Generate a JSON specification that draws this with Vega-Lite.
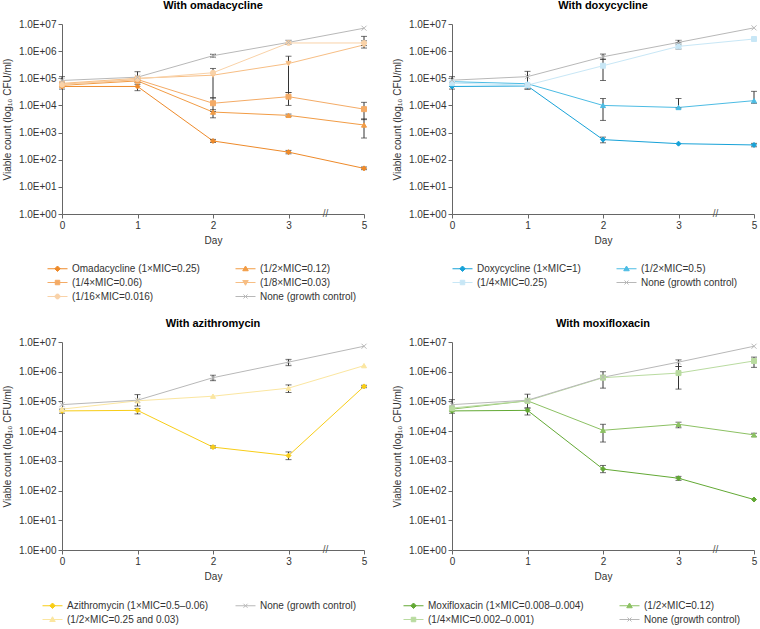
{
  "$schema": "https://vega.github.io/schema/vega-lite/v6.json",
  "padding": {"left": 2, "top": 0, "right": 0, "bottom": 0},
  "background": "white",
  "config": {
    "font": "Liberation Sans",
    "view": {"stroke": null},
    "title": {"fontSize": 11, "fontWeight": "bold", "color": "#000", "offset": 8, "anchor": "middle"},
    "axis": {"grid": false, "domainColor": "#666", "tickColor": "#666", "labelColor": "#333", "titleColor": "#333", "labelFontSize": 10, "titleFontSize": 10, "titleFontWeight": "normal", "tickSize": 4, "labelPadding": 2},
    "legend": {"labelFontSize": 10, "labelColor": "#333", "symbolSize": 100, "labelOffset": 9, "columnPadding": 33, "rowPadding": 3, "columns": 2, "direction": "horizontal", "orient": "none"}
  },
  "resolve": {"scale": {"color": "independent", "shape": "independent", "fill": "independent", "stroke": "independent"}, "legend": {"color": "independent", "shape": "independent", "fill": "independent", "stroke": "independent"}},
  "datasets": {
    "oma": [
      {"series": "Omadacycline (1×MIC=0.25)", "day": 0, "v": 50000, "lo": 40000, "hi": 60000},
      {"series": "Omadacycline (1×MIC=0.25)", "day": 1, "v": 50000, "lo": 35000, "hi": 60000},
      {"series": "Omadacycline (1×MIC=0.25)", "day": 2, "v": 490, "lo": 430, "hi": 560},
      {"series": "Omadacycline (1×MIC=0.25)", "day": 3, "v": 190, "lo": 165, "hi": 220},
      {"series": "Omadacycline (1×MIC=0.25)", "day": 5, "v": 48, "lo": 43, "hi": 54},
      {"series": "(1/2×MIC=0.12)", "day": 0, "v": 55000},
      {"series": "(1/2×MIC=0.12)", "day": 1, "v": 80000},
      {"series": "(1/2×MIC=0.12)", "day": 2, "v": 5700, "lo": 3500, "hi": 7000},
      {"series": "(1/2×MIC=0.12)", "day": 3, "v": 4300, "lo": 3900, "hi": 4800},
      {"series": "(1/2×MIC=0.12)", "day": 5, "v": 1900, "lo": 630, "hi": 3200},
      {"series": "(1/4×MIC=0.06)", "day": 0, "v": 60000},
      {"series": "(1/4×MIC=0.06)", "day": 1, "v": 90000},
      {"series": "(1/4×MIC=0.06)", "day": 2, "v": 12000, "lo": 6000, "hi": 19000},
      {"series": "(1/4×MIC=0.06)", "day": 3, "v": 21000, "lo": 10000, "hi": 30000},
      {"series": "(1/4×MIC=0.06)", "day": 5, "v": 7300, "lo": 3000, "hi": 13000},
      {"series": "(1/8×MIC=0.03)", "day": 0, "v": 65000},
      {"series": "(1/8×MIC=0.03)", "day": 1, "v": 100000},
      {"series": "(1/8×MIC=0.03)", "day": 2, "v": 130000, "lo": 19000, "hi": 230000},
      {"series": "(1/8×MIC=0.03)", "day": 3, "v": 350000, "lo": 30000, "hi": 650000},
      {"series": "(1/8×MIC=0.03)", "day": 5, "v": 1700000, "lo": 1300000, "hi": 3500000},
      {"series": "(1/16×MIC=0.016)", "day": 0, "v": 58000},
      {"series": "(1/16×MIC=0.016)", "day": 1, "v": 95000},
      {"series": "(1/16×MIC=0.016)", "day": 2, "v": 160000},
      {"series": "(1/16×MIC=0.016)", "day": 3, "v": 2000000},
      {"series": "(1/16×MIC=0.016)", "day": 5, "v": 2000000, "lo": 1600000, "hi": 2400000},
      {"series": "None (growth control)", "day": 0, "v": 83000, "lo": 60000, "hi": 115000},
      {"series": "None (growth control)", "day": 1, "v": 110000, "lo": 70000, "hi": 175000},
      {"series": "None (growth control)", "day": 2, "v": 680000, "lo": 600000, "hi": 760000},
      {"series": "None (growth control)", "day": 3, "v": 2100000, "lo": 1800000, "hi": 2500000},
      {"series": "None (growth control)", "day": 5, "v": 7000000}
    ],
    "doxy": [
      {"series": "Doxycycline (1×MIC=1)", "day": 0, "v": 50000, "lo": 40000, "hi": 60000},
      {"series": "Doxycycline (1×MIC=1)", "day": 1, "v": 52000, "lo": 40000, "hi": 60000},
      {"series": "Doxycycline (1×MIC=1)", "day": 2, "v": 550, "lo": 420, "hi": 680},
      {"series": "Doxycycline (1×MIC=1)", "day": 3, "v": 390},
      {"series": "Doxycycline (1×MIC=1)", "day": 5, "v": 350, "lo": 300, "hi": 400},
      {"series": "(1/2×MIC=0.5)", "day": 0, "v": 75000},
      {"series": "(1/2×MIC=0.5)", "day": 1, "v": 63000},
      {"series": "(1/2×MIC=0.5)", "day": 2, "v": 10000, "lo": 2800, "hi": 18000},
      {"series": "(1/2×MIC=0.5)", "day": 3, "v": 8400, "lo": 8000, "hi": 18000},
      {"series": "(1/2×MIC=0.5)", "day": 5, "v": 15000, "lo": 12000, "hi": 33000},
      {"series": "(1/4×MIC=0.25)", "day": 0, "v": 66000},
      {"series": "(1/4×MIC=0.25)", "day": 1, "v": 56000},
      {"series": "(1/4×MIC=0.25)", "day": 2, "v": 290000, "lo": 83000, "hi": 500000},
      {"series": "(1/4×MIC=0.25)", "day": 3, "v": 1500000, "lo": 1200000, "hi": 2000000},
      {"series": "(1/4×MIC=0.25)", "day": 5, "v": 2800000, "lo": 2500000, "hi": 3000000},
      {"series": "None (growth control)", "day": 0, "v": 85000, "lo": 50000, "hi": 115000},
      {"series": "None (growth control)", "day": 1, "v": 115000, "lo": 40000, "hi": 180000},
      {"series": "None (growth control)", "day": 2, "v": 620000, "lo": 500000, "hi": 780000},
      {"series": "None (growth control)", "day": 3, "v": 2100000, "lo": 1700000, "hi": 2500000},
      {"series": "None (growth control)", "day": 5, "v": 7200000}
    ],
    "azi": [
      {"series": "Azithromycin (1×MIC=0.5–0.06)", "day": 0, "v": 48000, "lo": 40000, "hi": 55000},
      {"series": "Azithromycin (1×MIC=0.5–0.06)", "day": 1, "v": 50000, "lo": 38000, "hi": 58000},
      {"series": "Azithromycin (1×MIC=0.5–0.06)", "day": 2, "v": 2900, "lo": 2700, "hi": 3200},
      {"series": "Azithromycin (1×MIC=0.5–0.06)", "day": 3, "v": 1500, "lo": 1100, "hi": 2000},
      {"series": "Azithromycin (1×MIC=0.5–0.06)", "day": 5, "v": 320000, "lo": 290000, "hi": 350000},
      {"series": "(1/2×MIC=0.25 and 0.03)", "day": 0, "v": 55000},
      {"series": "(1/2×MIC=0.25 and 0.03)", "day": 1, "v": 105000},
      {"series": "(1/2×MIC=0.25 and 0.03)", "day": 2, "v": 150000},
      {"series": "(1/2×MIC=0.25 and 0.03)", "day": 3, "v": 280000, "lo": 200000, "hi": 360000},
      {"series": "(1/2×MIC=0.25 and 0.03)", "day": 5, "v": 1600000},
      {"series": "None (growth control)", "day": 0, "v": 78000},
      {"series": "None (growth control)", "day": 1, "v": 110000, "lo": 70000, "hi": 170000},
      {"series": "None (growth control)", "day": 2, "v": 630000, "lo": 500000, "hi": 760000},
      {"series": "None (growth control)", "day": 3, "v": 2100000, "lo": 1600000, "hi": 2600000},
      {"series": "None (growth control)", "day": 5, "v": 7200000}
    ],
    "moxi": [
      {"series": "Moxifloxacin (1×MIC=0.008–0.004)", "day": 0, "v": 48000, "lo": 40000, "hi": 56000},
      {"series": "Moxifloxacin (1×MIC=0.008–0.004)", "day": 1, "v": 50000, "lo": 35000, "hi": 60000},
      {"series": "Moxifloxacin (1×MIC=0.008–0.004)", "day": 2, "v": 530, "lo": 400, "hi": 700},
      {"series": "Moxifloxacin (1×MIC=0.008–0.004)", "day": 3, "v": 260, "lo": 220, "hi": 300},
      {"series": "Moxifloxacin (1×MIC=0.008–0.004)", "day": 5, "v": 50},
      {"series": "(1/2×MIC=0.12)", "day": 0, "v": 55000},
      {"series": "(1/2×MIC=0.12)", "day": 1, "v": 105000},
      {"series": "(1/2×MIC=0.12)", "day": 2, "v": 10700, "lo": 4300, "hi": 17000},
      {"series": "(1/2×MIC=0.12)", "day": 3, "v": 17000, "lo": 13000, "hi": 20000},
      {"series": "(1/2×MIC=0.12)", "day": 5, "v": 7500, "lo": 6500, "hi": 8500},
      {"series": "(1/4×MIC=0.002–0.001)", "day": 0, "v": 60000},
      {"series": "(1/4×MIC=0.002–0.001)", "day": 1, "v": 105000},
      {"series": "(1/4×MIC=0.002–0.001)", "day": 2, "v": 630000, "lo": 280000, "hi": 1000000},
      {"series": "(1/4×MIC=0.002–0.001)", "day": 3, "v": 900000, "lo": 260000, "hi": 1500000},
      {"series": "(1/4×MIC=0.002–0.001)", "day": 5, "v": 2300000, "lo": 1400000, "hi": 3100000},
      {"series": "None (growth control)", "day": 0, "v": 78000, "lo": 50000, "hi": 115000},
      {"series": "None (growth control)", "day": 1, "v": 110000, "lo": 60000, "hi": 175000},
      {"series": "None (growth control)", "day": 2, "v": 650000, "lo": 550000, "hi": 750000},
      {"series": "None (growth control)", "day": 3, "v": 2100000, "lo": 1500000, "hi": 2500000},
      {"series": "None (growth control)", "day": 5, "v": 7200000}
    ]
  },
  "vconcat": [
    {
      "resolve": {"scale": {"color": "independent", "shape": "independent", "fill": "independent", "stroke": "independent"}, "legend": {"color": "independent", "shape": "independent", "fill": "independent", "stroke": "independent"}},
      "hconcat": [
        {
          "width": 302, "height": 190,
          "title": "With omadacycline",
          "data": {"name": "oma"},
          "encoding": {"x": {"field": "day", "type": "ordinal", "title": "Day", "scale": {"type": "point", "padding": 0, "domain": [0, 1, 2, 3, 5]}, "axis": {"labelAngle": 0, "titlePadding": 5}}},
          "layer": [
            {"mark": {"type": "line", "strokeWidth": 1},
             "encoding": {
               "y": {"field": "v", "type": "quantitative", "title": "Viable count (log₁₀ CFU/ml)", "scale": {"type": "log", "domain": [1, 10000000]}, "axis": {"values": [1, 10, 100, 1000, 10000, 100000, 1000000, 10000000], "labelExpr": "'1.0E+0' + format(log(datum.value)/LN10, '.0f')", "titlePadding": 6}},
               "color": {"field": "series", "type": "nominal",
                 "scale": {"domain": ["Omadacycline (1×MIC=0.25)", "(1/2×MIC=0.12)", "(1/4×MIC=0.06)", "(1/8×MIC=0.03)", "(1/16×MIC=0.016)", "None (growth control)"], "range": ["#ee8a2a", "#f29c45", "#f4ab66", "#f7be84", "#f9d2a8", "#b8b8b8"]},
                 "legend": {"title": null, "legendX": -10, "legendY": 239,
                   "encode": {"symbols": {"update": {
                     "shape": {"signal": "['M-2,0L2,0M0,-0.55L0.55,0L0,0.55L-0.55,0Z','M-2,0L2,0M0,-0.55L0.55,0.4L-0.55,0.4Z','M-2,0L2,0M-0.45,-0.45L0.45,-0.45L0.45,0.45L-0.45,0.45Z','M-2,0L2,0M0,0.55L0.55,-0.4L-0.55,-0.4Z','M-2,0L2,0M-0.48,0A0.48,0.48,0,1,0,0.48,0A0.48,0.48,0,1,0,-0.48,0Z','M-2,0L2,0M-0.4,-0.4L0.4,0.4M-0.4,0.4L0.4,-0.4'][indexof(['Omadacycline (1×MIC=0.25)','(1/2×MIC=0.12)','(1/4×MIC=0.06)','(1/8×MIC=0.03)','(1/16×MIC=0.016)','None (growth control)'], datum.value)]"},
                     "fill": {"signal": "['#ee8a2a','#f29c45','#f4ab66','#f7be84','#f9d2a8','#b8b8b8'][indexof(['Omadacycline (1×MIC=0.25)','(1/2×MIC=0.12)','(1/4×MIC=0.06)','(1/8×MIC=0.03)','(1/16×MIC=0.016)','None (growth control)'], datum.value)]"},
                     "stroke": {"signal": "['#ee8a2a','#f29c45','#f4ab66','#f7be84','#f9d2a8','#b8b8b8'][indexof(['Omadacycline (1×MIC=0.25)','(1/2×MIC=0.12)','(1/4×MIC=0.06)','(1/8×MIC=0.03)','(1/16×MIC=0.016)','None (growth control)'], datum.value)]"},
                     "strokeWidth": {"value": 1}
                   }}}}}
             }},
            {"transform": [{"filter": "isValid(datum.lo)"}],
             "mark": {"type": "errorbar", "color": "#333", "thickness": 1, "ticks": {"size": 6}},
             "encoding": {"y": {"field": "lo", "type": "quantitative", "title": "Viable count (log₁₀ CFU/ml)"}, "y2": {"field": "hi"}}},
            {"mark": {"type": "point", "filled": true, "size": 25, "strokeWidth": 1, "opacity": 1},
             "encoding": {
               "y": {"field": "v", "type": "quantitative", "title": "Viable count (log₁₀ CFU/ml)"},
               "shape": {"field": "series", "type": "nominal", "legend": null, "scale": {"domain": ["None (growth control)", "(1/16×MIC=0.016)", "(1/8×MIC=0.03)", "(1/4×MIC=0.06)", "(1/2×MIC=0.12)", "Omadacycline (1×MIC=0.25)"], "range": ["M-1,-1L1,1M-1,1L1,-1", "circle", "triangle-down", "square", "triangle-up", "diamond"]}},
               "fill": {"field": "series", "type": "nominal", "legend": null, "scale": {"domain": ["None (growth control)", "(1/16×MIC=0.016)", "(1/8×MIC=0.03)", "(1/4×MIC=0.06)", "(1/2×MIC=0.12)", "Omadacycline (1×MIC=0.25)"], "range": ["#b8b8b8", "#f9d2a8", "#f7be84", "#f4ab66", "#f29c45", "#ee8a2a"]}},
               "stroke": {"field": "series", "type": "nominal", "legend": null, "scale": {"domain": ["None (growth control)", "(1/16×MIC=0.016)", "(1/8×MIC=0.03)", "(1/4×MIC=0.06)", "(1/2×MIC=0.12)", "Omadacycline (1×MIC=0.25)"], "range": ["#b8b8b8", "#f9d2a8", "#f7be84", "#f4ab66", "#f29c45", "#ee8a2a"]}}
             }},
            {"data": {"values": [{"day": 3, "v": 1}]},
             "mark": {"type": "text", "text": "//", "dx": 37, "fontSize": 10, "color": "#555", "baseline": "middle"},
             "encoding": {"y": {"field": "v", "type": "quantitative", "title": "Viable count (log₁₀ CFU/ml)"}}}
          ]
        },
        {
          "width": 302, "height": 190,
          "title": "With doxycycline",
          "data": {"name": "doxy"},
          "encoding": {"x": {"field": "day", "type": "ordinal", "title": "Day", "scale": {"type": "point", "padding": 0, "domain": [0, 1, 2, 3, 5]}, "axis": {"labelAngle": 0, "titlePadding": 5}}},
          "layer": [
            {"mark": {"type": "line", "strokeWidth": 1},
             "encoding": {
               "y": {"field": "v", "type": "quantitative", "title": "Viable count (log₁₀ CFU/ml)", "scale": {"type": "log", "domain": [1, 10000000]}, "axis": {"values": [1, 10, 100, 1000, 10000, 100000, 1000000, 10000000], "labelExpr": "'1.0E+0' + format(log(datum.value)/LN10, '.0f')", "titlePadding": 6}},
               "color": {"field": "series", "type": "nominal",
                 "scale": {"domain": ["Doxycycline (1×MIC=1)", "(1/2×MIC=0.5)", "(1/4×MIC=0.25)", "None (growth control)"], "range": ["#17a2d8", "#4cbce4", "#c8e7f6", "#b8b8b8"]},
                 "legend": {"title": null, "legendX": 5, "legendY": 239,
                   "encode": {"symbols": {"update": {
                     "shape": {"signal": "['M-2,0L2,0M0,-0.55L0.55,0L0,0.55L-0.55,0Z','M-2,0L2,0M0,-0.55L0.55,0.4L-0.55,0.4Z','M-2,0L2,0M-0.45,-0.45L0.45,-0.45L0.45,0.45L-0.45,0.45Z','M-2,0L2,0M-0.4,-0.4L0.4,0.4M-0.4,0.4L0.4,-0.4'][indexof(['Doxycycline (1×MIC=1)','(1/2×MIC=0.5)','(1/4×MIC=0.25)','None (growth control)'], datum.value)]"},
                     "fill": {"signal": "['#17a2d8','#4cbce4','#c8e7f6','#b8b8b8'][indexof(['Doxycycline (1×MIC=1)','(1/2×MIC=0.5)','(1/4×MIC=0.25)','None (growth control)'], datum.value)]"},
                     "stroke": {"signal": "['#17a2d8','#4cbce4','#c8e7f6','#b8b8b8'][indexof(['Doxycycline (1×MIC=1)','(1/2×MIC=0.5)','(1/4×MIC=0.25)','None (growth control)'], datum.value)]"},
                     "strokeWidth": {"value": 1}
                   }}}}}
             }},
            {"transform": [{"filter": "isValid(datum.lo)"}],
             "mark": {"type": "errorbar", "color": "#333", "thickness": 1, "ticks": {"size": 6}},
             "encoding": {"y": {"field": "lo", "type": "quantitative", "title": "Viable count (log₁₀ CFU/ml)"}, "y2": {"field": "hi"}}},
            {"mark": {"type": "point", "filled": true, "size": 25, "strokeWidth": 1, "opacity": 1},
             "encoding": {
               "y": {"field": "v", "type": "quantitative", "title": "Viable count (log₁₀ CFU/ml)"},
               "shape": {"field": "series", "type": "nominal", "legend": null, "scale": {"domain": ["None (growth control)", "(1/4×MIC=0.25)", "(1/2×MIC=0.5)", "Doxycycline (1×MIC=1)"], "range": ["M-1,-1L1,1M-1,1L1,-1", "square", "triangle-up", "diamond"]}},
               "fill": {"field": "series", "type": "nominal", "legend": null, "scale": {"domain": ["None (growth control)", "(1/4×MIC=0.25)", "(1/2×MIC=0.5)", "Doxycycline (1×MIC=1)"], "range": ["#b8b8b8", "#c8e7f6", "#4cbce4", "#17a2d8"]}},
               "stroke": {"field": "series", "type": "nominal", "legend": null, "scale": {"domain": ["None (growth control)", "(1/4×MIC=0.25)", "(1/2×MIC=0.5)", "Doxycycline (1×MIC=1)"], "range": ["#b8b8b8", "#c8e7f6", "#4cbce4", "#17a2d8"]}}
             }},
            {"data": {"values": [{"day": 3, "v": 1}]},
             "mark": {"type": "text", "text": "//", "dx": 37, "fontSize": 10, "color": "#555", "baseline": "middle"},
             "encoding": {"y": {"field": "v", "type": "quantitative", "title": "Viable count (log₁₀ CFU/ml)"}}}
          ]
        }
      ],
      "spacing": 23
    },
    {
      "resolve": {"scale": {"color": "independent", "shape": "independent", "fill": "independent", "stroke": "independent"}, "legend": {"color": "independent", "shape": "independent", "fill": "independent", "stroke": "independent"}},
      "hconcat": [
        {
          "width": 302, "height": 208,
          "title": "With azithromycin",
          "data": {"name": "azi"},
          "encoding": {"x": {"field": "day", "type": "ordinal", "title": "Day", "scale": {"type": "point", "padding": 0, "domain": [0, 1, 2, 3, 5]}, "axis": {"labelAngle": 0, "titlePadding": 5}}},
          "layer": [
            {"mark": {"type": "line", "strokeWidth": 1},
             "encoding": {
               "y": {"field": "v", "type": "quantitative", "title": "Viable count (log₁₀ CFU/ml)", "scale": {"type": "log", "domain": [1, 10000000]}, "axis": {"values": [1, 10, 100, 1000, 10000, 100000, 1000000, 10000000], "labelExpr": "'1.0E+0' + format(log(datum.value)/LN10, '.0f')", "titlePadding": 6}},
               "color": {"field": "series", "type": "nominal",
                 "scale": {"domain": ["Azithromycin (1×MIC=0.5–0.06)", "None (growth control)", "(1/2×MIC=0.25 and 0.03)"], "range": ["#f8cd17", "#b8b8b8", "#fbe6a0"]},
                 "legend": {"title": null, "legendX": -15, "legendY": 258, "columnPadding": 24,
                   "encode": {"symbols": {"update": {
                     "shape": {"signal": "['M-2,0L2,0M0,-0.55L0.55,0L0,0.55L-0.55,0Z','M-2,0L2,0M-0.4,-0.4L0.4,0.4M-0.4,0.4L0.4,-0.4','M-2,0L2,0M0,-0.55L0.55,0.4L-0.55,0.4Z'][indexof(['Azithromycin (1×MIC=0.5–0.06)','None (growth control)','(1/2×MIC=0.25 and 0.03)'], datum.value)]"},
                     "fill": {"signal": "['#f8cd17','#b8b8b8','#fbe6a0'][indexof(['Azithromycin (1×MIC=0.5–0.06)','None (growth control)','(1/2×MIC=0.25 and 0.03)'], datum.value)]"},
                     "stroke": {"signal": "['#f8cd17','#b8b8b8','#fbe6a0'][indexof(['Azithromycin (1×MIC=0.5–0.06)','None (growth control)','(1/2×MIC=0.25 and 0.03)'], datum.value)]"},
                     "strokeWidth": {"value": 1}
                   }}}}}
             }},
            {"transform": [{"filter": "isValid(datum.lo)"}],
             "mark": {"type": "errorbar", "color": "#333", "thickness": 1, "ticks": {"size": 6}},
             "encoding": {"y": {"field": "lo", "type": "quantitative", "title": "Viable count (log₁₀ CFU/ml)"}, "y2": {"field": "hi"}}},
            {"mark": {"type": "point", "filled": true, "size": 25, "strokeWidth": 1, "opacity": 1},
             "encoding": {
               "y": {"field": "v", "type": "quantitative", "title": "Viable count (log₁₀ CFU/ml)"},
               "shape": {"field": "series", "type": "nominal", "legend": null, "scale": {"domain": ["(1/2×MIC=0.25 and 0.03)", "None (growth control)", "Azithromycin (1×MIC=0.5–0.06)"], "range": ["triangle-up", "M-1,-1L1,1M-1,1L1,-1", "diamond"]}},
               "fill": {"field": "series", "type": "nominal", "legend": null, "scale": {"domain": ["(1/2×MIC=0.25 and 0.03)", "None (growth control)", "Azithromycin (1×MIC=0.5–0.06)"], "range": ["#fbe6a0", "#b8b8b8", "#f8cd17"]}},
               "stroke": {"field": "series", "type": "nominal", "legend": null, "scale": {"domain": ["(1/2×MIC=0.25 and 0.03)", "None (growth control)", "Azithromycin (1×MIC=0.5–0.06)"], "range": ["#fbe6a0", "#b8b8b8", "#f8cd17"]}}
             }},
            {"data": {"values": [{"day": 3, "v": 1}]},
             "mark": {"type": "text", "text": "//", "dx": 37, "fontSize": 10, "color": "#555", "baseline": "middle"},
             "encoding": {"y": {"field": "v", "type": "quantitative", "title": "Viable count (log₁₀ CFU/ml)"}}}
          ]
        },
        {
          "width": 302, "height": 208,
          "title": "With moxifloxacin",
          "data": {"name": "moxi"},
          "encoding": {"x": {"field": "day", "type": "ordinal", "title": "Day", "scale": {"type": "point", "padding": 0, "domain": [0, 1, 2, 3, 5]}, "axis": {"labelAngle": 0, "titlePadding": 5}}},
          "layer": [
            {"mark": {"type": "line", "strokeWidth": 1},
             "encoding": {
               "y": {"field": "v", "type": "quantitative", "title": "Viable count (log₁₀ CFU/ml)", "scale": {"type": "log", "domain": [1, 10000000]}, "axis": {"values": [1, 10, 100, 1000, 10000, 100000, 1000000, 10000000], "labelExpr": "'1.0E+0' + format(log(datum.value)/LN10, '.0f')", "titlePadding": 6}},
               "color": {"field": "series", "type": "nominal",
                 "scale": {"domain": ["Moxifloxacin (1×MIC=0.008–0.004)", "(1/2×MIC=0.12)", "(1/4×MIC=0.002–0.001)", "None (growth control)"], "range": ["#63a935", "#8cc163", "#b9dba0", "#b8b8b8"]},
                 "legend": {"title": null, "legendX": -44, "legendY": 258,
                   "encode": {"symbols": {"update": {
                     "shape": {"signal": "['M-2,0L2,0M0,-0.55L0.55,0L0,0.55L-0.55,0Z','M-2,0L2,0M0,-0.55L0.55,0.4L-0.55,0.4Z','M-2,0L2,0M-0.45,-0.45L0.45,-0.45L0.45,0.45L-0.45,0.45Z','M-2,0L2,0M-0.4,-0.4L0.4,0.4M-0.4,0.4L0.4,-0.4'][indexof(['Moxifloxacin (1×MIC=0.008–0.004)','(1/2×MIC=0.12)','(1/4×MIC=0.002–0.001)','None (growth control)'], datum.value)]"},
                     "fill": {"signal": "['#63a935','#8cc163','#b9dba0','#b8b8b8'][indexof(['Moxifloxacin (1×MIC=0.008–0.004)','(1/2×MIC=0.12)','(1/4×MIC=0.002–0.001)','None (growth control)'], datum.value)]"},
                     "stroke": {"signal": "['#63a935','#8cc163','#b9dba0','#b8b8b8'][indexof(['Moxifloxacin (1×MIC=0.008–0.004)','(1/2×MIC=0.12)','(1/4×MIC=0.002–0.001)','None (growth control)'], datum.value)]"},
                     "strokeWidth": {"value": 1}
                   }}}}}
             }},
            {"transform": [{"filter": "isValid(datum.lo)"}],
             "mark": {"type": "errorbar", "color": "#333", "thickness": 1, "ticks": {"size": 6}},
             "encoding": {"y": {"field": "lo", "type": "quantitative", "title": "Viable count (log₁₀ CFU/ml)"}, "y2": {"field": "hi"}}},
            {"mark": {"type": "point", "filled": true, "size": 25, "strokeWidth": 1, "opacity": 1},
             "encoding": {
               "y": {"field": "v", "type": "quantitative", "title": "Viable count (log₁₀ CFU/ml)"},
               "shape": {"field": "series", "type": "nominal", "legend": null, "scale": {"domain": ["None (growth control)", "(1/4×MIC=0.002–0.001)", "(1/2×MIC=0.12)", "Moxifloxacin (1×MIC=0.008–0.004)"], "range": ["M-1,-1L1,1M-1,1L1,-1", "square", "triangle-up", "diamond"]}},
               "fill": {"field": "series", "type": "nominal", "legend": null, "scale": {"domain": ["None (growth control)", "(1/4×MIC=0.002–0.001)", "(1/2×MIC=0.12)", "Moxifloxacin (1×MIC=0.008–0.004)"], "range": ["#b8b8b8", "#b9dba0", "#8cc163", "#63a935"]}},
               "stroke": {"field": "series", "type": "nominal", "legend": null, "scale": {"domain": ["None (growth control)", "(1/4×MIC=0.002–0.001)", "(1/2×MIC=0.12)", "Moxifloxacin (1×MIC=0.008–0.004)"], "range": ["#b8b8b8", "#b9dba0", "#8cc163", "#63a935"]}}
             }},
            {"data": {"values": [{"day": 3, "v": 1}]},
             "mark": {"type": "text", "text": "//", "dx": 37, "fontSize": 10, "color": "#555", "baseline": "middle"},
             "encoding": {"y": {"field": "v", "type": "quantitative", "title": "Viable count (log₁₀ CFU/ml)"}}}
          ]
        }
      ],
      "spacing": 23
    }
  ],
  "spacing": 16
}
